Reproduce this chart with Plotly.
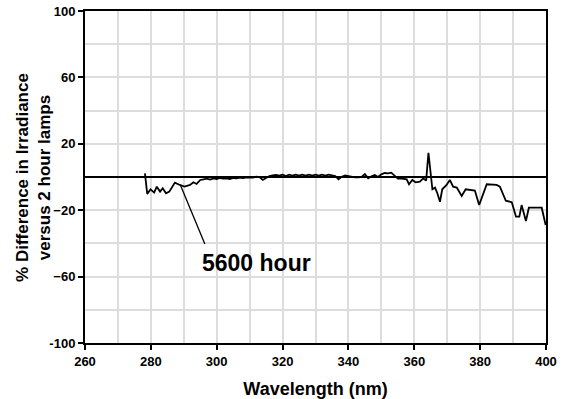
import plotly.graph_objects as go

wavelength = [278.2, 278.9, 279.9, 281.0, 281.8, 282.8, 283.6, 284.6, 285.6, 287.3, 288.8, 290.2,
              291.9, 292.9, 293.9, 295.0, 296.0, 297.0, 298.0, 299.0, 300.0, 301.0, 302.0, 303.0,
              304.0, 305.0, 306.0, 307.0, 308.0, 309.0, 310.0, 311.0, 312.0, 313.0, 314.0, 315.0,
              316.0, 317.0, 318.0, 319.0, 320.0, 321.0, 322.0, 323.0, 324.0, 325.0, 326.0, 327.0,
              328.0, 329.0, 330.0, 331.0, 332.0, 333.0, 334.0, 335.0, 336.0, 337.0, 338.0, 339.0,
              340.0, 341.0, 342.0, 343.0, 344.0, 345.0, 346.0, 347.0, 348.0, 349.0, 350.0, 351.0,
              352.0, 353.0, 354.0, 355.0, 355.7, 357.7, 358.4, 359.4, 360.4, 361.7, 362.7, 363.6,
              364.3, 365.5, 366.3, 367.0, 367.8, 368.5, 369.8, 370.8, 371.8, 372.9, 374.4, 375.6,
              378.4, 379.7, 382.0, 385.0, 386.0, 387.8, 389.6, 390.9, 391.9, 392.6, 393.9, 394.8,
              398.7, 399.9]
diff_5600 = [2.2, -10.2, -7.4, -9.4, -5.8, -8.8, -6.8, -9.8, -8.8, -3.4, -4.8, -5.8,
             -4.8, -3.2, -4.2, -1.8, -1.4, -1.0, -1.6, -0.8, -1.2, -0.6, -1.0, -0.8,
             -1.2, -0.6, -0.8, -0.4, -0.6, -0.2, -0.4, -0.4, 0.2, 0.0, -1.8, -0.6,
             0.6, 1.0, 1.2, 0.8, 1.4, 0.6, 1.4, 0.8, 1.4, 0.8, 1.4, 0.8,
             1.4, 0.8, 1.4, 0.8, 1.4, 0.8, 1.4, 1.0, 0.6, -1.4, 0.2, 1.0,
             0.6, 0.0, -0.2, -0.2, 0.0, 1.8, -0.8, 0.4, 1.2, 0.0, 1.6, 2.4,
             2.2, 2.6, 0.6, -1.0, -0.8, -1.4, -4.4, -1.8, -3.2, -2.8, -0.8, -2.2,
             14.6, -7.4, -6.4, -9.8, -14.9, -7.4, -4.8, -1.8, -5.8, -6.4, -11.4, -7.4,
             -8.2, -16.9, -4.4, -4.8, -5.8, -14.3, -15.2, -23.9, -23.9, -16.9, -26.5, -18.5,
             -18.5, -28.9]

y_tickvals = [100, 60, 20, -20, -60, -100]
y_ticktext = ["<b>100</b>", "<b>60</b>", "<b>20</b>", "<b>\u221220</b>", "<b>\u221260</b>", "<b>-100</b>"]
x_tickvals = [260, 280, 300, 320, 340, 360, 380, 400]
x_ticktext = ["<b>%d</b>" % v for v in x_tickvals]
series_label = "5600 hour"
y_title = "% Difference in Irradiance<br>versus 2 hour lamps"
x_title = "Wavelength (nm)"
label_pos = (312, -52)
leader_from = (289, -5)
leader_to = (296.4, -40.4)

FONT = "Liberation Sans, Arial, sans-serif"

fig = go.Figure()
fig.add_trace(go.Scatter(x=wavelength, y=diff_5600, mode="lines",
                         line=dict(color="black", width=1.8), showlegend=False))

fig.add_shape(type="line", xref="x", yref="y",
              x0=leader_from[0], y0=leader_from[1], x1=leader_to[0], y1=leader_to[1],
              line=dict(color="black", width=1.3))
fig.add_annotation(x=label_pos[0], y=label_pos[1], xref="x", yref="y",
                   text="<b>" + series_label + "</b>", showarrow=False,
                   font=dict(size=23, color="black", family=FONT))
fig.add_annotation(x=-0.113, y=0.5, xref="paper", yref="paper", textangle=-90,
                   xanchor="center", yanchor="middle",
                   text="<b>" + y_title + "</b>", showarrow=False,
                   font=dict(size=17, color="black", family=FONT))

fig.update_layout(
    width=574, height=399,
    margin=dict(l=85, r=28, t=11, b=56, autoexpand=False),
    paper_bgcolor="white", plot_bgcolor="white",
    font=dict(family=FONT, color="black"),
)
fig.update_xaxes(range=[260, 400], tickvals=x_tickvals, ticktext=x_ticktext, automargin=False,
                 ticks="outside", ticklen=5, tickwidth=1.5, tickcolor="black",
                 tickfont=dict(size=13, family=FONT), ticklabeloverflow="allow",
                 showline=True, linecolor="black", linewidth=2, mirror=True,
                 showgrid=True, gridcolor="#dddddd", gridwidth=1.5,
                 minor=dict(dtick=10, tick0=260, showgrid=True, gridcolor="#dddddd", gridwidth=1.5),
                 zeroline=False,
                 title=dict(text="<b>" + x_title + "</b>", font=dict(size=18), standoff=15))
fig.update_yaxes(range=[-100, 100], tickvals=y_tickvals, ticktext=y_ticktext, automargin=False,
                 ticks="outside", ticklen=5, tickwidth=1.5, tickcolor="black",
                 tickfont=dict(size=13, family=FONT), ticklabeloverflow="allow",
                 showline=True, linecolor="black", linewidth=2, mirror=True,
                 showgrid=True, gridcolor="#dddddd", gridwidth=1.5,
                 minor=dict(dtick=20, tick0=0, showgrid=True, gridcolor="#dddddd", gridwidth=1.5),
                 zeroline=True, zerolinecolor="black", zerolinewidth=2)

fig.write_html("out.html", config={"displayModeBar": False},
               post_script="document.body.style.margin='0px';")
